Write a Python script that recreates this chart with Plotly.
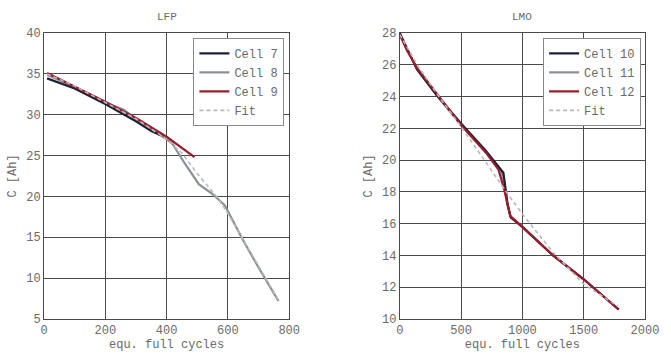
import plotly.graph_objects as go

# ---- LFP data ----
lfp_c7_x = [10, 100, 200, 300, 350, 380]
lfp_c7_y = [34.45, 33.2, 31.3, 29.2, 28.0, 27.5]
lfp_c8_x = [10, 100, 200, 260, 330, 400, 420, 460, 505, 550, 590, 650, 700, 765]
lfp_c8_y = [34.9, 33.4, 31.5, 30.6, 28.7, 27.0, 26.4, 24.0, 21.5, 20.3, 18.9, 14.6, 11.3, 7.2]
lfp_c9_x = [10, 100, 200, 300, 400, 491]
lfp_c9_y = [35.1, 33.4, 31.6, 29.6, 27.3, 24.8]
lfp_fit_x = [10, 100, 200, 300, 400, 450, 500, 565, 600, 700, 770]
lfp_fit_y = [35.0, 33.5, 31.5, 29.5, 27.0, 25.3, 22.8, 19.9, 17.9, 11.5, 7.0]

# ---- LMO data ----
lmo_c10_x = [0, 60, 140, 300, 500, 700, 820, 845, 880, 905, 1000, 1250, 1500, 1785]
lmo_c10_y = [28.0, 27.0, 25.7, 24.1, 22.3, 20.6, 19.5, 19.2, 17.2, 16.4, 15.8, 14.0, 12.5, 10.6]
lmo_c11_x = [0, 60, 140, 300, 500, 700, 815, 840, 880, 905, 1000, 1250, 1500, 1785]
lmo_c11_y = [27.9, 26.9, 25.8, 24.1, 22.2, 20.5, 19.4, 19.0, 17.1, 16.4, 15.8, 14.0, 12.5, 10.6]
lmo_c12_x = [0, 60, 140, 300, 500, 700, 805, 850, 900, 1000, 1250, 1500, 1785]
lmo_c12_y = [27.9, 26.9, 25.8, 24.2, 22.2, 20.5, 19.4, 18.2, 16.5, 15.8, 14.0, 12.5, 10.6]
lmo_fit_x = [0, 150, 300, 500, 700, 850, 1000, 1250, 1500, 1780]
lmo_fit_y = [27.9, 25.9, 24.2, 22.1, 19.9, 18.2, 16.6, 14.2, 12.2, 10.8]

DARK = "#1b2136"
GRAY = "#8c9196"
RED = "#9e1b2b"
FIT = "#b9b9b9"
FONT = "Liberation Mono"
TXT = "#6a6a6a"
GRID = "#4a4a4a"

fig = go.Figure()

def add(x, y, name, color, xa, ya, leg, rank, dash="solid", w=2.2):
    fig.add_trace(go.Scatter(x=x, y=y, name=name, mode="lines",
                             line=dict(color=color, width=w, dash=dash),
                             xaxis=xa, yaxis=ya, legend=leg, legendrank=rank))

add(lfp_c8_x, lfp_c8_y, "Cell 8", GRAY, "x", "y", "legend", 2)
add(lfp_c7_x, lfp_c7_y, "Cell 7", DARK, "x", "y", "legend", 1)
add(lfp_c9_x, lfp_c9_y, "Cell 9", RED, "x", "y", "legend", 3)
add(lfp_fit_x, lfp_fit_y, "Fit", FIT, "x", "y", "legend", 4, dash="4px,3px", w=1.6)

add(lmo_c11_x, lmo_c11_y, "Cell 11", GRAY, "x2", "y2", "legend2", 2)
add(lmo_c10_x, lmo_c10_y, "Cell 10", DARK, "x2", "y2", "legend2", 1)
add(lmo_c12_x, lmo_c12_y, "Cell 12", RED, "x2", "y2", "legend2", 3)
add(lmo_fit_x, lmo_fit_y, "Fit", FIT, "x2", "y2", "legend2", 4, dash="4px,3px", w=1.6)

ax_common = dict(showgrid=True, gridcolor=GRID, gridwidth=1, zeroline=False,
                 showline=True, linecolor=GRID, linewidth=1, mirror=True,
                 ticks="", tickfont=dict(family=FONT, size=12, color=TXT))

legend_common = dict(bgcolor="white", bordercolor="#888888", borderwidth=1,
                     font=dict(family=FONT, size=12, color=TXT),
                     yanchor="top", xanchor="right", traceorder="normal",
                     tracegroupgap=0)

fig.update_layout(
    width=671, height=361,
    margin=dict(l=42, r=14, t=33, b=36),
    paper_bgcolor="white", plot_bgcolor="white",
    font=dict(family=FONT, color=TXT, size=12),
    xaxis=dict(domain=[0, 0.408], range=[0, 800], dtick=200,
               title=dict(text="equ. full cycles", standoff=2,
                          font=dict(family=FONT, size=12, color=TXT)),
               **ax_common),
    yaxis=dict(domain=[0, 1], range=[5, 40], dtick=5,
               title=dict(text="C [Ah]", standoff=6,
                          font=dict(family=FONT, size=12, color=TXT)),
               **ax_common),
    xaxis2=dict(domain=[0.592, 1.0], range=[0, 2000], dtick=500, anchor="y2",
                title=dict(text="equ. full cycles", standoff=2,
                           font=dict(family=FONT, size=12, color=TXT)),
                **ax_common),
    yaxis2=dict(domain=[0, 1], range=[10, 28], dtick=2, anchor="x2",
                title=dict(text="C [Ah]", standoff=6,
                           font=dict(family=FONT, size=12, color=TXT)),
                **ax_common),
    legend=dict(x=0.400, y=0.983, **legend_common),
    legend2=dict(x=0.9935, y=0.983, **legend_common),
    showlegend=True,
    annotations=[
        dict(text="LFP", x=0.204, y=1.0, xref="paper", yref="paper",
             xanchor="center", yanchor="bottom", yshift=8, showarrow=False,
             font=dict(family=FONT, size=11, color=TXT)),
        dict(text="LMO", x=0.796, y=1.0, xref="paper", yref="paper",
             xanchor="center", yanchor="bottom", yshift=8, showarrow=False,
             font=dict(family=FONT, size=11, color=TXT)),
    ],
)

fig.write_html("out.html")
